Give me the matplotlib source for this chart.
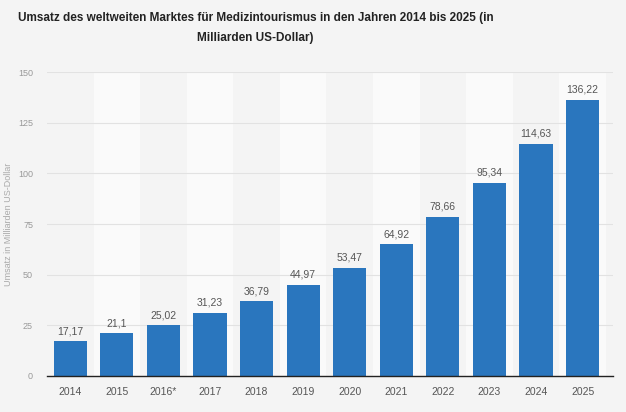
import matplotlib
matplotlib.use("Agg")
import matplotlib.pyplot as plt

years = ["2014", "2015", "2016*", "2017", "2018", "2019", "2020", "2021", "2022", "2023", "2024", "2025"]
values = [17.17, 21.1, 25.02, 31.23, 36.79, 44.97, 53.47, 64.92, 78.66, 95.34, 114.63, 136.22]
yticks = [0, 25, 50, 75, 100, 125, 150]

plt.rcParams['font.family'] = ['Liberation Sans', 'DejaVu Sans']

fig = plt.figure(figsize=(6.26, 4.12), dpi=100, facecolor='#f4f4f4')
ax = fig.add_axes([0.075, 0.0874, 0.904, 0.7378])
ax.set_facecolor('#f4f4f4')

x = list(range(len(years)))
for i in x:
    if i % 2 == 1:
        ax.axvspan(i - 0.5, i + 0.5, color='#fafafa', zorder=0, lw=0)

ax.bar(x, values, width=0.71, color='#2a76be', zorder=3)
for xi, v in zip(x, values):
    ax.text(xi, v + 2.5, f"{v:.2f}".rstrip('0').replace('.', ','), ha='center', va='bottom',
            fontsize=7.5, color='#555555', zorder=4)

ax.set_xlim(-0.5, 11.65)
ax.set_ylim(0, 150)
ax.set_yticks(yticks)
ax.set_yticklabels([str(t) for t in yticks], fontsize=6.5, color='#999999')
ax.set_xticks(x)
ax.set_xticklabels(years, fontsize=7.5, color='#555555')
ax.tick_params(axis='both', length=0)
ax.tick_params(axis='y', pad=10)
ax.tick_params(axis='x', pad=8)
ax.grid(axis='y', color='#e2e2e2', lw=0.8, zorder=1)
ax.set_axisbelow(True)
for s in ['top', 'right', 'left']:
    ax.spines[s].set_visible(False)
ax.spines['bottom'].set_color('#222222')
ax.spines['bottom'].set_linewidth(1.0)
ax.spines['bottom'].set_zorder(5)

fig.text(0.013, 0.5 * (0.0874 + 0.825), "Umsatz in Milliarden US-Dollar", rotation=90,
         ha='center', va='center', fontsize=6.5, color='#aaaaaa')

fig.text(0.408, 0.97, "Umsatz des weltweiten Marktes für Medizintourismus in den Jahren 2014 bis 2025 (in\nMilliarden US-Dollar)",
         ha='center', va='top', fontsize=8.5, fontweight='bold', color='#222222', linespacing=1.9,
         multialignment='center')

fig.savefig("out.png", dpi=100, facecolor=fig.get_facecolor())
